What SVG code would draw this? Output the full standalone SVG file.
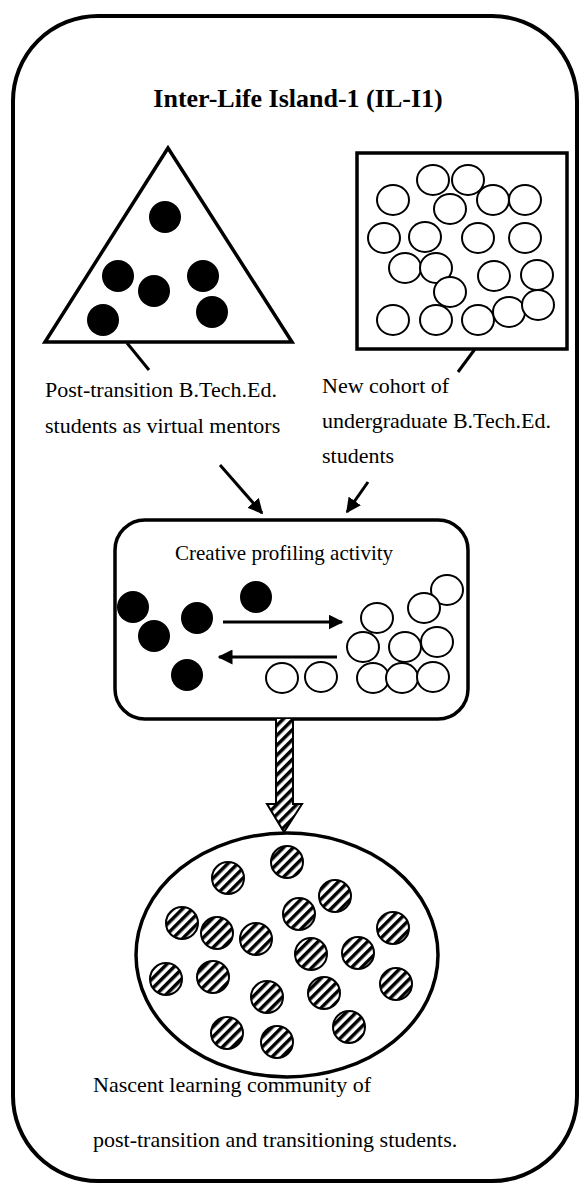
<svg xmlns="http://www.w3.org/2000/svg" width="581" height="1185" viewBox="0 0 581 1185">
<defs>
<style>
.frame{fill:none;stroke:#000;stroke-width:4}
.shape{fill:#fff;stroke:#000;stroke-width:3.5}
.dot{fill:#000}
.open{fill:#fff;stroke:#000;stroke-width:2}
.hatch{fill:url(#stripes);stroke:#000;stroke-width:2}
.line{fill:none;stroke:#000;stroke-width:3}
.lbl{font-family:"Liberation Serif","Times New Roman",serif;font-size:22px;fill:#000}
.title{font-family:"Liberation Serif","Times New Roman",serif;font-size:26px;font-weight:bold;fill:#000}
</style>
<pattern id="stripes" patternUnits="userSpaceOnUse" width="7" height="7" patternTransform="rotate(45)">
<rect width="7" height="7" fill="#fff"/>
<rect width="3.5" height="7" fill="#000"/>
</pattern>
<marker id="ah" viewBox="0 0 10 10" refX="9" refY="5" markerWidth="5" markerHeight="5" markerUnits="strokeWidth" orient="auto">
<path d="M0,0 L10,5 L0,10 z" fill="#000"/>
</marker>
</defs>

<g id="frame">
<rect class="frame" x="13" y="16" width="564" height="1165" rx="85" ry="85"/>
<text class="title" x="298" y="107" text-anchor="middle">Inter-Life Island-1 (IL-I1)</text>
</g>

<g id="mentors">
<polygon class="shape" points="168,148 45,342 292,342"/>
<circle class="dot" cx="165" cy="217" r="16"/>
<circle class="dot" cx="118" cy="276" r="16"/>
<circle class="dot" cx="154" cy="291" r="16"/>
<circle class="dot" cx="203" cy="276" r="16"/>
<circle class="dot" cx="212" cy="312" r="16"/>
<circle class="dot" cx="103" cy="320" r="16"/>
<text class="lbl" x="45" y="397">Post-transition B.Tech.Ed.</text>
<text class="lbl" x="45" y="433">students as virtual mentors</text>
</g>

<g id="cohort">
<rect class="shape" x="357" y="153" width="210" height="196"/>
<g class="open">
<ellipse cx="433" cy="180" rx="16" ry="15"/>
<ellipse cx="468" cy="180" rx="16" ry="15"/>
<ellipse cx="393" cy="200" rx="16" ry="15"/>
<ellipse cx="450" cy="209" rx="16" ry="15"/>
<ellipse cx="493" cy="200" rx="16" ry="15"/>
<ellipse cx="525" cy="200" rx="16" ry="15"/>
<ellipse cx="384" cy="238" rx="16" ry="15"/>
<ellipse cx="425" cy="237" rx="16" ry="15"/>
<ellipse cx="478" cy="238" rx="16" ry="15"/>
<ellipse cx="525" cy="238" rx="16" ry="15"/>
<ellipse cx="405" cy="268" rx="16" ry="15"/>
<ellipse cx="436" cy="268" rx="16" ry="15"/>
<ellipse cx="450" cy="292" rx="16" ry="15"/>
<ellipse cx="494" cy="276" rx="16" ry="15"/>
<ellipse cx="537" cy="275" rx="16" ry="15"/>
<ellipse cx="393" cy="320" rx="16" ry="15"/>
<ellipse cx="436" cy="320" rx="16" ry="15"/>
<ellipse cx="478" cy="320" rx="16" ry="15"/>
<ellipse cx="509" cy="312" rx="16" ry="15"/>
<ellipse cx="538" cy="305" rx="16" ry="15"/>
</g>
<text class="lbl" x="322" y="393">New cohort of</text>
<text class="lbl" x="322" y="428">undergraduate B.Tech.Ed.</text>
<text class="lbl" x="322" y="463">students</text>
</g>

<g id="activity">
<rect class="shape" x="115" y="520" width="353" height="199" rx="30" ry="30" stroke-width="3"/>
<text class="lbl" x="175" y="560" style="font-size:21px">Creative profiling activity</text>
<circle class="dot" cx="133" cy="607" r="16"/>
<circle class="dot" cx="154" cy="636" r="16"/>
<circle class="dot" cx="197" cy="618" r="16"/>
<circle class="dot" cx="256" cy="597" r="16"/>
<circle class="dot" cx="187" cy="675" r="16"/>
<g class="open">
<ellipse cx="447" cy="590" rx="16" ry="15"/>
<ellipse cx="424" cy="608" rx="16" ry="15"/>
<ellipse cx="377" cy="618" rx="16" ry="15"/>
<ellipse cx="363" cy="647" rx="16" ry="15"/>
<ellipse cx="405" cy="647" rx="16" ry="15"/>
<ellipse cx="437" cy="642" rx="16" ry="15"/>
<ellipse cx="282" cy="678" rx="16" ry="15"/>
<ellipse cx="321" cy="677" rx="16" ry="15"/>
<ellipse cx="373" cy="678" rx="16" ry="15"/>
<ellipse cx="402" cy="678" rx="16" ry="15"/>
<ellipse cx="433" cy="677" rx="16" ry="15"/>
</g>
</g>

<g id="community">
<ellipse class="shape" cx="287" cy="955" rx="151" ry="122" stroke-width="3"/>
<g class="hatch">
<circle cx="287" cy="862" r="16"/>
<circle cx="228" cy="878" r="16"/>
<circle cx="335" cy="896" r="16"/>
<circle cx="299" cy="914" r="16"/>
<circle cx="182" cy="923" r="16"/>
<circle cx="217" cy="933" r="16"/>
<circle cx="256" cy="939" r="16"/>
<circle cx="393" cy="928" r="16"/>
<circle cx="311" cy="954" r="16"/>
<circle cx="358" cy="953" r="16"/>
<circle cx="166" cy="979" r="16"/>
<circle cx="213" cy="977" r="16"/>
<circle cx="267" cy="997" r="16"/>
<circle cx="324" cy="993" r="16"/>
<circle cx="396" cy="984" r="16"/>
<circle cx="227" cy="1033" r="16"/>
<circle cx="349" cy="1027" r="16"/>
<circle cx="277" cy="1042" r="16"/>
</g>
<text class="lbl" x="93" y="1092">Nascent learning community of</text>
<text class="lbl" x="93" y="1147">post-transition and transitioning students.</text>
</g>

<g id="connectors">
<line class="line" x1="127" y1="343" x2="149" y2="370"/>
<line class="line" x1="475" y1="349" x2="458" y2="372"/>
<line class="line" x1="220" y1="465" x2="262" y2="513" marker-end="url(#ah)"/>
<line class="line" x1="368" y1="482" x2="347" y2="512" marker-end="url(#ah)"/>
<line class="line" x1="223" y1="622" x2="342" y2="622" stroke-width="2.5" marker-end="url(#ah)"/>
<line class="line" x1="337" y1="657" x2="219" y2="657" stroke-width="2.5" marker-end="url(#ah)"/>
<path d="M276,719 L276,804 L267,804 L284,832 L302,804 L293,804 L293,719" fill="url(#stripes)" stroke="#000" stroke-width="2"/>
</g>
</svg>
